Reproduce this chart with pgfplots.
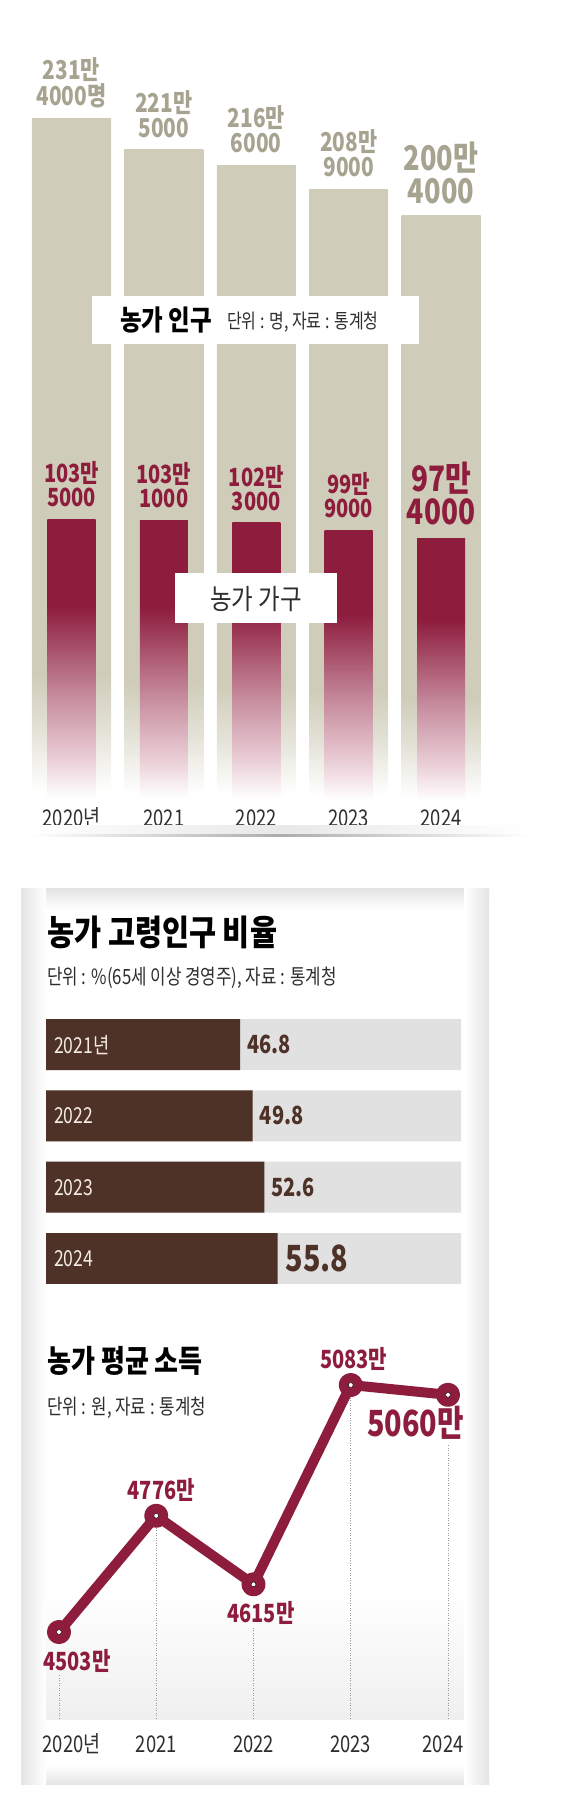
\documentclass[border=0pt]{standalone}
\usepackage{fontspec}
\setmainfont{Noto Sans CJK KR}
\newfontfamily\cn{Noto Sans CJK KR}[FakeStretch=0.8]
\newfontfamily\tb{Noto Sans CJK KR}[FakeStretch=0.84]
\usepackage{pgfplots}
\pgfplotsset{compat=1.18}
\usetikzlibrary{fadings}
\definecolor{beige}{HTML}{CFCCB9}
\definecolor{beigetext}{HTML}{A6A390}
\definecolor{krred}{HTML}{8D1C3D}
\definecolor{pinkm}{HTML}{C58A9C}
\definecolor{pinkl}{HTML}{EBD0D8}
\definecolor{brownbar}{HTML}{4E3127}
\definecolor{bargray}{HTML}{E1E1E1}
\definecolor{cream}{HTML}{F4ECE4}
\definecolor{dark}{HTML}{2E2E2E}
\definecolor{panelgray}{HTML}{E4E4E4}
\colorlet{beigehalf}{beige!55!white}
\pgfdeclareverticalshading{beigefade}{100bp}{color(0bp)=(white); color(28.6bp)=(white); color(32.6bp)=(beigehalf); color(36.6bp)=(beige); color(100bp)=(beige)}
\pgfdeclareverticalshading{redfade}{100bp}{color(0bp)=(white); color(32bp)=(white); color(37.7bp)=(pinkl); color(47.9bp)=(pinkm); color(61.6bp)=(krred); color(100bp)=(krred)}
\tikzset{
  popl/.style={anchor=south, inner sep=0pt, align=center, text=beigetext, font=\cn\bfseries\fontsize{26}{25}\selectfont},
  popL/.style={anchor=south, inner sep=0pt, align=center, text=beigetext, font=\cn\bfseries\fontsize{34}{33}\selectfont},
  hhl/.style={anchor=south, inner sep=0pt, align=center, text=krred, font=\cn\bfseries\fontsize{25}{24}\selectfont},
  hhL/.style={anchor=south, inner sep=0pt, align=center, text=krred, font=\cn\bfseries\fontsize{35}{33}\selectfont},
  yearl/.style={anchor=base, inner sep=0pt, text=dark, font=\cn\fontsize{23}{23}\selectfont},
  incl/.style={anchor=center, inner sep=0pt, text=krred, font=\cn\bfseries\fontsize{25}{25}\selectfont},
  dotv/.style={color=gray!80, line width=0.8pt, dash pattern=on 0.9pt off 1.6pt},
}
\begin{document}
\begin{tikzpicture}[x=1pt,y=1pt]
\path[use as bounding box] (0,0) rectangle (560,1817);
% ---------------- top chart ----------------
\begin{axis}[at={(25.3pt,974pt)}, anchor=south west, scale only axis,
  width=462pt, height=813.8pt, xmin=-0.5, xmax=4.5, ymin=0, ymax=260,
  axis lines=none, ybar, bar shift=0pt, clip=false]
\addplot[bar width=0.855, bar shift=0pt, draw=none, shade, shading=beigefade] coordinates {(0,231.4)};
\addplot[bar width=0.855, bar shift=0pt, draw=none, shade, shading=beigefade] coordinates {(1,221.5)};
\addplot[bar width=0.855, bar shift=0pt, draw=none, shade, shading=beigefade] coordinates {(2,216.6)};
\addplot[bar width=0.855, bar shift=0pt, draw=none, shade, shading=beigefade] coordinates {(3,208.9)};
\addplot[bar width=0.855, bar shift=0pt, draw=none, shade, shading=beigefade] coordinates {(4,200.4)};
\addplot[bar width=0.52, bar shift=0pt, draw=none, shade, shading=redfade] coordinates {(0,103.5)};
\addplot[bar width=0.52, bar shift=0pt, draw=none, shade, shading=redfade] coordinates {(1,103.1)};
\addplot[bar width=0.52, bar shift=0pt, draw=none, shade, shading=redfade] coordinates {(2,102.3)};
\addplot[bar width=0.52, bar shift=0pt, draw=none, shade, shading=redfade] coordinates {(3,99.9)};
\addplot[bar width=0.52, bar shift=0pt, draw=none, shade, shading=redfade] coordinates {(4,97.4)};
\node[popl] at (axis cs:0,231.4) [yshift=11pt] {231만\\4000명};
\node[popl] at (axis cs:1,221.5) [yshift=12pt] {221만\\5000};
\node[popl] at (axis cs:2,216.6) [yshift=12pt] {216만\\6000};
\node[popl] at (axis cs:3,208.9) [yshift=12pt] {208만\\9000};
\node[popL] at (axis cs:4,200.4) [yshift=12pt] {200만\\4000};
\node[hhl] at (axis cs:0,103.5) [yshift=12pt] {103만\\5000};
\node[hhl] at (axis cs:1,103.1) [yshift=12pt] {103만\\1000};
\node[hhl] at (axis cs:2,102.3) [yshift=12pt] {102만\\3000};
\node[hhl] at (axis cs:3,99.9) [yshift=12pt] {99만\\9000};
\node[hhL] at (axis cs:4,97.4) [yshift=13pt] {97만\\4000};
\node[yearl] at (axis cs:0,5.4) {2020년};
\node[yearl] at (axis cs:1,5.4) {2021};
\node[yearl] at (axis cs:2,5.4) {2022};
\node[yearl] at (axis cs:3,5.4) {2023};
\node[yearl] at (axis cs:4,5.4) {2024};
\end{axis}
% label boxes
\fill[white] (92,1473) rectangle (419,1521);
\node[anchor=base west, inner sep=0pt, font=\tb\bfseries\fontsize{28}{28}\selectfont] at (120,1486) {농가 인구};
\node[anchor=base west, inner sep=0pt, text=dark, font=\cn\fontsize{20}{20}\selectfont] at (227,1488) {단위 : 명, 자료 : 통계청};
\fill[white] (175,1194) rectangle (337,1244);
\node[anchor=center, inner sep=0pt, text=dark, font=\tb\fontsize{28}{28}\selectfont] at (256,1218) {농가 가구};
% bottom shadow
\shade[left color=white, right color=white, middle color=gray!18] (30,980) rectangle (530,991);
\shade[left color=white, right color=white, middle color=gray!65] (30,980) rectangle (530,982.5);
% ---------------- panel ----------------
\fill[white] (21,32) rectangle (489,928);
\shade[top color=panelgray, bottom color=white] (21,908) rectangle (489,928);
\shade[top color=white, bottom color=panelgray] (21,32) rectangle (489,52);
\shade[left color=panelgray, right color=white] (21,32) rectangle (46,928);
\shade[left color=white, right color=panelgray] (464,32) rectangle (489,928);
\fill[gray!12, path fading=north] (46,97) rectangle (464,225);
\node[anchor=west, inner sep=0pt, text=black, font=\tb\bfseries\fontsize{35}{35}\selectfont] at (47,885) {농가 고령인구 비율};
\node[anchor=west, inner sep=0pt, text=dark, font=\cn\fontsize{21}{21}\selectfont] at (47,839.5) {단위 : \%(65세 이상 경영주), 자료 : 통계청};
\begin{axis}[at={(46pt,522.85pt)}, anchor=south west, scale only axis,
  width=415pt, height=285.2pt, xmin=0, xmax=100, ymin=-0.5, ymax=3.5,
  axis lines=none, xbar, bar shift=0pt, bar width=0.715, clip=false]
\addplot[fill=bargray, draw=none, bar shift=0pt] coordinates {(100,3) (100,2) (100,1) (100,0)};
\addplot[fill=brownbar, draw=none, bar shift=0pt] coordinates {(46.8,3) (49.8,2) (52.6,1) (55.8,0)};
\node[anchor=west, inner sep=0pt, text=brownbar, font=\cn\bfseries\fontsize{25}{25}\selectfont] at (axis cs:46.8,3) [xshift=7pt] {46.8};
\node[anchor=west, inner sep=0pt, text=brownbar, font=\cn\bfseries\fontsize{25}{25}\selectfont] at (axis cs:49.8,2) [xshift=7pt] {49.8};
\node[anchor=west, inner sep=0pt, text=brownbar, font=\cn\bfseries\fontsize{25}{25}\selectfont] at (axis cs:52.6,1) [xshift=7pt] {52.6};
\node[anchor=west, inner sep=0pt, text=brownbar, font=\cn\bfseries\fontsize{36}{36}\selectfont] at (axis cs:55.8,0) [xshift=8pt] {55.8};
\node[anchor=west, inner sep=0pt, text=cream, font=\cn\fontsize{22}{22}\selectfont] at (axis cs:0,3) [xshift=8pt] {2021년};
\node[anchor=west, inner sep=0pt, text=cream, font=\cn\fontsize{22}{22}\selectfont] at (axis cs:0,2) [xshift=8pt] {2022};
\node[anchor=west, inner sep=0pt, text=cream, font=\cn\fontsize{22}{22}\selectfont] at (axis cs:0,1) [xshift=8pt] {2023};
\node[anchor=west, inner sep=0pt, text=cream, font=\cn\fontsize{22}{22}\selectfont] at (axis cs:0,0) [xshift=8pt] {2024};
\end{axis}
% ---------------- line chart ----------------
\node[anchor=west, inner sep=0pt, text=black, font=\tb\bfseries\fontsize{31}{31}\selectfont] at (47,456) {농가 평균 소득};
\node[anchor=west, inner sep=0pt, text=dark, font=\cn\fontsize{21}{21}\selectfont] at (47,409.5) {단위 : 원, 자료 : 통계청};
\begin{axis}[at={(59pt,98.5pt)}, anchor=south west, scale only axis,
  width=389pt, height=383.3pt, xmin=0, xmax=4, ymin=4300, ymax=5200,
  axis lines=none, clip=false]
\addplot[dotv] coordinates {(0,4300) (0,4402)};
\addplot[dotv] coordinates {(1,4300) (1,4776)};
\addplot[dotv] coordinates {(2,4300) (2,4512)};
\addplot[dotv] coordinates {(3,4300) (3,5083)};
\addplot[dotv] coordinates {(4,4300) (4,4942)};
\addplot[krred, line width=10pt, line join=round, line cap=round, mark=*, mark size=7pt,
  mark options={fill=krred, draw=none}] coordinates {(0,4503) (1,4776) (2,4615) (3,5083) (4,5060)};
\addplot[only marks, mark=*, mark size=2.4pt, mark options={fill=white, draw=none}]
  coordinates {(0,4503) (1,4776) (2,4615) (3,5083) (4,5060)};
\node[incl] at (axis cs:0,4503) [xshift=18pt, yshift=-29pt] {4503만};
\node[incl] at (axis cs:1,4776) [xshift=5pt, yshift=25.5pt] {4776만};
\node[incl] at (axis cs:2,4615) [xshift=7.5pt, yshift=-28.5pt] {4615만};
\node[incl] at (axis cs:3,5083) [xshift=3pt, yshift=26pt] {5083만};
\node[incl, font=\cn\bfseries\fontsize{36}{36}\selectfont] at (axis cs:4,5060) [xshift=-32.5pt, yshift=-27.5pt] {5060만};
\node[yearl] at (axis cs:0,4221) [xshift=4pt] {2020\rlap{년}};
\node[yearl] at (axis cs:1,4221) {2021};
\node[yearl] at (axis cs:2,4221) {2022};
\node[yearl] at (axis cs:3,4221) {2023};
\node[yearl] at (axis cs:4,4221) [xshift=-5pt] {2024};
\end{axis}
\end{tikzpicture}
\end{document}
